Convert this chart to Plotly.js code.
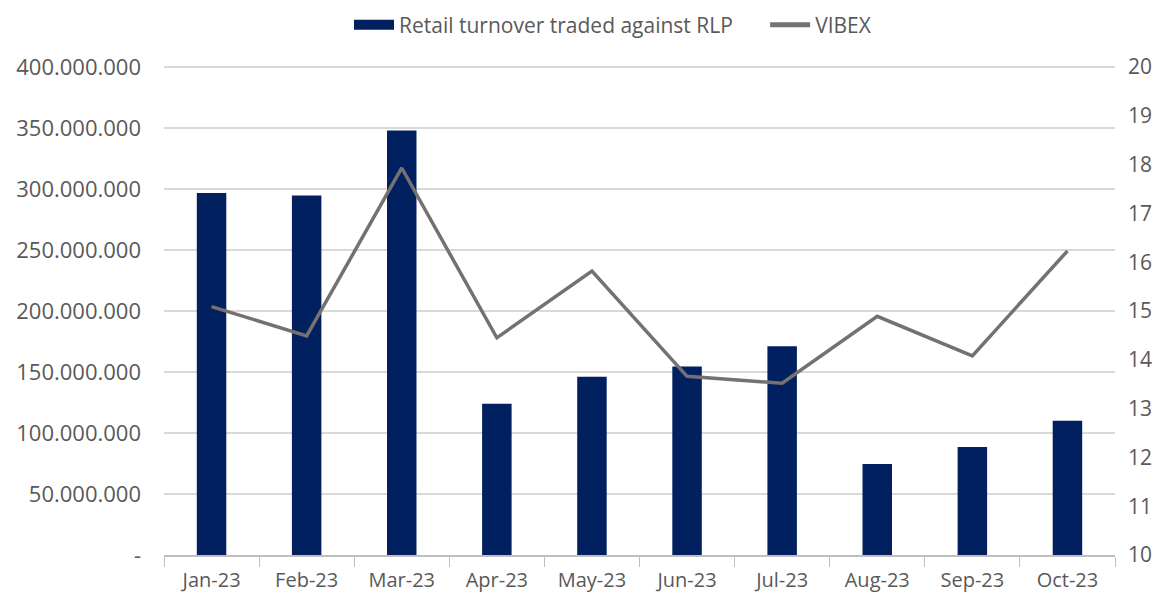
<!DOCTYPE html>
<html>
<head>
<meta charset="utf-8">
<script src="https://cdn.plot.ly/plotly-3.0.1.min.js"></script>
<style>html,body{margin:0;padding:0;background:#fff;}#chart{width:1173px;height:599px;}</style>
</head>
<body>
<div id="chart"></div>
<script>
const months = ["Jan-23","Feb-23","Mar-23","Apr-23","May-23","Jun-23","Jul-23","Aug-23","Sep-23","Oct-23"];
const turnover = [296600000, 294700000, 348000000, 124000000, 146000000, 154400000, 171000000, 74600000, 88500000, 110000000];
const vibex = [15.09, 14.49, 17.93, 14.45, 15.82, 13.66, 13.52, 14.89, 14.08, 16.23];
const leftTickVals = [0, 50000000, 100000000, 150000000, 200000000, 250000000, 300000000, 350000000, 400000000];
const leftTickText = ["-", "50.000.000", "100.000.000", "150.000.000", "200.000.000", "250.000.000", "300.000.000", "350.000.000", "400.000.000"];
const rightTickVals = [10, 11, 12, 13, 14, 15, 16, 17, 18, 19, 20];
const seriesNames = ["Retail turnover traded against RLP", "VIBEX"];

const fam = "Open Sans, Liberation Sans, sans-serif";
const txt = "#595959";
const pad = "\u00a0\u00a0\u00a0\u00a0\u00a0";

const traces = [
  {type: "bar", name: seriesNames[0], x: months, y: turnover,
   marker: {color: "#002060"}, width: 0.31, yaxis: "y", showlegend: false},
  {type: "scatter", mode: "lines", name: seriesNames[1], x: months, y: vibex,
   line: {color: "#767171", width: 3.5}, yaxis: "y2", showlegend: false},
  // legend-only entries to mimic the reference legend keys
  {type: "scatter", mode: "lines", name: seriesNames[0] + pad, x: [null], y: [null],
   line: {color: "#002060", width: 14}, yaxis: "y", hoverinfo: "skip"},
  {type: "scatter", mode: "lines", name: seriesNames[1], x: [null], y: [null],
   line: {color: "#767171", width: 5}, yaxis: "y2", hoverinfo: "skip"}
];

const layout = {
  width: 1173, height: 599,
  margin: {l: 164, r: 58, t: 65, b: 44},
  paper_bgcolor: "#fff", plot_bgcolor: "#fff",
  font: {family: fam, size: 20, color: txt},
  showlegend: true,
  legend: {orientation: "h", x: 0.5226, xanchor: "center", xref: "container",
           y: 0.958, yanchor: "middle", yref: "container",
           font: {family: fam, size: 21, color: txt}, traceorder: "normal", itemwidth: 40},
  bargap: 0.69,
  xaxis: {type: "category", showgrid: false, showline: true, linecolor: "#bfbfbf", linewidth: 1.5,
          ticks: "outside", tickson: "boundaries", ticklen: 10, tickcolor: "#bfbfbf",
          ticklabelstandoff: 6,
          tickfont: {family: fam, size: 20, color: txt}, zeroline: false},
  yaxis: {range: [0, 401600000], tickvals: leftTickVals, ticktext: leftTickText,
          showgrid: true, gridcolor: "#d9d9d9", gridwidth: 1.5, zeroline: false,
          showline: false, ticks: "", ticklabelstandoff: 22,
          tickfont: {family: fam, size: 22, color: txt}},
  yaxis2: {range: [10, 20.04], tickvals: rightTickVals, overlaying: "y", side: "right",
           showgrid: false, zeroline: false, showline: false, ticks: "", ticklabelstandoff: 12,
           tickfont: {family: fam, size: 21, color: txt}}
};

Plotly.newPlot("chart", traces, layout, {displayModeBar: false, staticPlot: true});
</script>
</body>
</html>
